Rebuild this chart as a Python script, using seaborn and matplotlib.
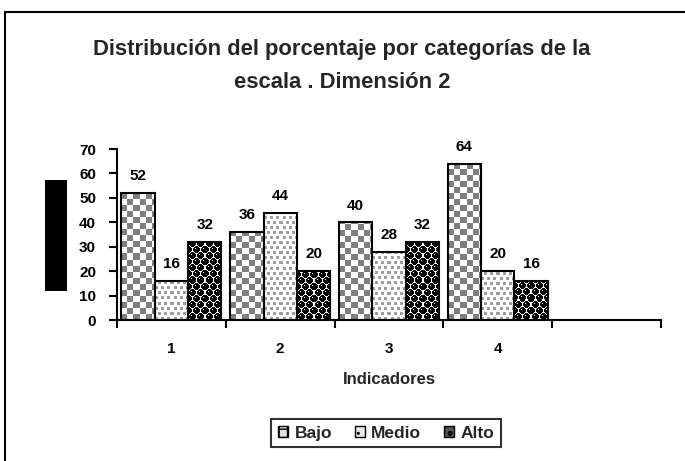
import numpy as np
import pandas as pd
import matplotlib
matplotlib.use('Agg')
import matplotlib.pyplot as plt
import seaborn as sns
from matplotlib.patches import Rectangle, Patch

# ---- data ----
categories = ['1', '2', '3', '4']
series = ['Bajo', 'Medio', 'Alto']
bajo = [52, 36, 40, 64]
medio = [16, 44, 28, 20]
alto = [32, 20, 32, 16]
yticks = [0, 10, 20, 30, 40, 50, 60, 70]
title = 'Distribución del porcentaje por categorías de la\nescala . Dimensión 2'
xlabel = 'Indicadores'

df = pd.DataFrame({
    'Indicador': categories * 3,
    'Nivel': [s for s in series for _ in categories],
    'Porcentaje': bajo + medio + alto,
})

sns.set_theme(style='white')
plt.rcParams['font.family'] = ['Liberation Sans', 'DejaVu Sans']
plt.rcParams['font.weight'] = 'bold'

W, H = 685, 461
fig = plt.figure(figsize=(W / 100, H / 100), dpi=100)
fig.patch.set_facecolor('white')
ax = fig.add_axes([117 / W, 1 - 320 / H, (661 - 117) / W, 171 / H])

sns.barplot(data=df, x='Indicador', y='Porcentaje', hue='Nivel', order=categories,
            hue_order=series, palette=['#ffffff', '#fefefe', '#fdfdfd'], width=0.92,
            gap=0, edgecolor='black', linewidth=1.5, saturation=1, legend=False, ax=ax)
ax.set_xlim(-0.5, 4.5)
ax.set_ylim(0, 70)


def texture(kind, w, h):
    yy, xx = np.mgrid[0:h, 0:w]
    yy = (h - 1 - yy)  # from bottom
    img = np.ones((h, w, 3))
    if kind == 'Bajo':
        m = ((xx // 6 + yy // 6) % 2) == 0
        img[m] = 0.5
    elif kind == 'Medio':
        row = yy // 5
        m = (yy % 5 < 3) & (((xx + 3 * (row % 2)) % 6) < 3)
        img[m] = 0.62
    else:
        dmin = np.full((h, w), 99.0)
        hx = np.zeros((h, w)); hy = np.zeros((h, w))
        for dj in (-1, 0, 1):
            j = yy // 6 + dj
            cy = j * 6 + 3
            off = 4 * (j % 2)
            i = np.round((xx - off - 4) / 8.0)
            cx = i * 8 + off + 4
            d = np.hypot(xx - cx, yy - cy)
            better = d < dmin
            dmin = np.where(better, d, dmin)
            hx = np.where(better, xx - cx, hx)
            hy = np.where(better, yy - cy, hy)
        m = dmin <= 3.3
        img[m] = 0.0
        hl = m & (hx == -1) & (hy == 1)
        img[hl] = 1.0
    return img


fig.canvas.draw()
for kind, cont in zip(series, ax.containers):
    for bar in cont:
        x0, w, h = bar.get_x(), bar.get_width(), bar.get_height()
        p0 = ax.transData.transform((x0, 0))
        p1 = ax.transData.transform((x0 + w, h))
        wp = max(int(round(p1[0] - p0[0])), 1)
        hp = max(int(round(p1[1] - p0[1])), 1)
        im = ax.imshow(texture(kind, wp, hp), extent=(x0, x0 + w, 0, h), origin='upper',
                       interpolation='nearest', aspect='auto', zorder=1)
        im.set_clip_path(bar)
        bar.set_facecolor('none')
        bar.set_zorder(2)
    ax.bar_label(cont, labels=[str(int(b.get_height())) for b in cont], padding=7,
                 fontsize=11, fontweight='bold', color='black')

ax.set_xlim(-0.5, 4.5)
ax.set_ylim(0, 70)

# axes styling
for s in ['top', 'right']:
    ax.spines[s].set_visible(False)
for s in ['left', 'bottom']:
    ax.spines[s].set_color('black')
    ax.spines[s].set_linewidth(1.5)
ax.set_yticks(yticks)
ax.set_yticklabels([str(t) for t in yticks], fontsize=11, fontweight='bold')
ax.tick_params(axis='y', direction='out', length=6, width=1.5, pad=9, colors='black', left=True)
ax.set_xticks(range(len(categories)))
ax.set_xticklabels(categories, fontsize=11, fontweight='bold')
ax.set_xticks(np.arange(-0.5, 4.6, 1.0), minor=True)
ax.tick_params(axis='x', which='major', length=0, pad=16, colors='black')
ax.tick_params(axis='x', which='minor', direction='out', length=6, width=1.5, color='black', bottom=True)
ax.set_ylabel('')
ax.set_xlabel(xlabel, fontsize=12, fontweight='bold')
ax.xaxis.set_label_coords(0.5, (320 - 379) / 171)
ax.xaxis.label.set_va('center')

# title
fig.text(342 / W, 1 - 66 / H, title, ha='center', va='center', fontsize=15.8,
         fontweight='bold', linespacing=1.7)

# hidden y-label box
fig.add_artist(Rectangle((45 / W, 1 - 291 / H), 22 / W, 111 / H, transform=fig.transFigure,
                         facecolor='black', edgecolor='none'))
# chart border
fig.add_artist(Rectangle((5 / W, -0.02), 1.0, 1 - 12 / H + 0.02, transform=fig.transFigure,
                         fill=False, edgecolor='black', linewidth=1.5))

# legend
handles = [
    Patch(facecolor='#e0e0e0', edgecolor='black', hatch='++', label='Bajo'),
    Patch(facecolor='#e8e8e8', edgecolor='black', hatch='..', label='Medio'),
    Patch(facecolor='#555555', edgecolor='black', hatch='oo', label='Alto'),
]
leg = fig.legend(handles=handles, loc='center', bbox_to_anchor=(386 / W, 1 - 433 / H), ncol=3,
                 frameon=True, fancybox=False, edgecolor='black',
                 handlelength=0.6, handleheight=0.6, handletextpad=0.35, columnspacing=1.3,
                 borderpad=0.4, prop={'weight': 'bold', 'size': 12.5})
leg.get_frame().set_linewidth(1.5)

fig.savefig('out.png', dpi=100, facecolor='white')
